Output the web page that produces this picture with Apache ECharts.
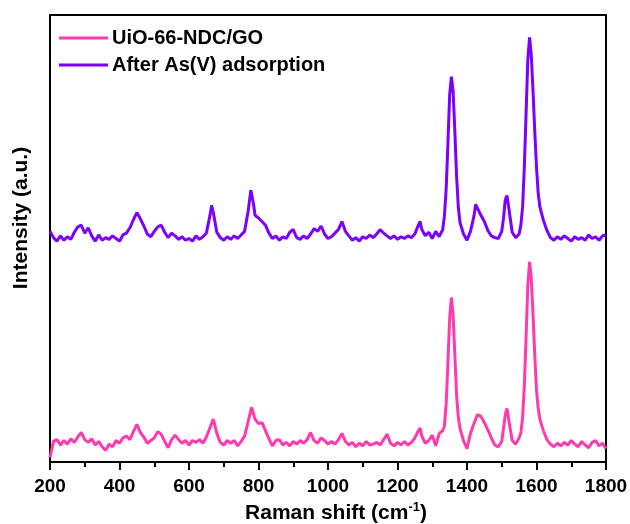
<!DOCTYPE html>
<html>
<head>
<meta charset="utf-8">
<script src="https://cdn.jsdelivr.net/npm/echarts@6/dist/echarts.min.js"></script>
<style>
html,body{margin:0;padding:0;background:#fff;}
#chart{width:630px;height:524px;}
</style>
</head>
<body>
<div id="chart"></div>
<script>
// Raman shift tick labels
const xTicks = [200, 400, 600, 800, 1000, 1200, 1400, 1600, 1800];
const seriesNames = ['UiO-66-NDC/GO', 'After As(V) adsorption'];
const seriesColors = ['#FF3AAF', '#7B00FF'];

// [Raman shift (cm-1), intensity (a.u., offset)]
const uioSpectrum = [
[200,1.0],[210,4.6],[220,5.0],[230,3.8],[240,4.8],[250,4.0],[260,5.2],[270,4.4],[280,5.6],[290,6.6],
[300,5.0],[310,4.4],[320,5.2],[330,3.8],[340,4.6],[350,3.4],[360,2.6],[370,4.0],[380,3.4],[390,4.8],
[400,4.2],[410,5.4],[420,5.8],[430,5.0],[440,6.8],[450,8.4],[460,6.6],[470,5.6],[480,4.2],[490,4.8],
[500,5.4],[510,6.8],[520,6.2],[530,4.6],[540,3.2],[550,5.0],[560,6.0],[570,5.0],[580,4.2],[590,4.8],
[600,3.8],[610,4.8],[620,4.4],[630,5.0],[640,4.2],[650,5.6],[660,7.6],[670,9.6],[680,6.4],[690,4.4],
[700,3.8],[710,4.8],[720,4.2],[730,4.8],[740,3.6],[750,4.6],[760,5.8],[770,9.0],[780,12.2],[790,9.6],
[800,8.6],[810,8.8],[820,7.0],[830,5.2],[840,3.6],[850,4.8],[860,5.0],[870,3.8],[880,4.4],[890,3.6],
[900,4.6],[910,4.0],[920,4.8],[930,4.2],[940,5.0],[950,6.6],[960,4.8],[970,4.2],[980,5.4],[990,4.8],
[1000,4.0],[1010,4.6],[1020,4.0],[1030,5.0],[1040,6.4],[1050,4.6],[1060,3.8],[1070,4.4],[1080,3.4],[1090,4.2],
[1100,3.6],[1110,4.6],[1120,3.8],[1130,4.0],[1140,4.4],[1150,3.8],[1160,5.0],[1170,6.2],[1180,4.2],[1190,3.6],
[1200,4.4],[1210,3.8],[1220,4.6],[1230,3.8],[1240,4.4],[1250,5.4],[1260,7.0],[1265,7.6],[1270,5.8],[1280,4.2],
[1290,4.8],[1300,6.0],[1310,3.6],[1320,6.4],[1330,7.0],[1335,8.0],[1340,13.0],[1345,22.0],[1350,32.0],[1355,36.8],
[1360,33.0],[1365,24.0],[1370,15.0],[1375,10.0],[1380,7.5],[1390,4.8],[1400,3.0],[1410,6.4],[1420,8.6],[1430,10.6],
[1440,10.2],[1450,8.8],[1460,7.2],[1470,5.4],[1480,3.8],[1490,3.4],[1500,4.6],[1505,7.5],[1510,10.5],[1515,12.0],
[1520,9.5],[1530,4.8],[1540,4.0],[1550,5.4],[1555,6.5],[1560,10.0],[1565,17.0],[1570,28.0],[1575,39.5],[1580,44.8],
[1585,41.0],[1590,33.0],[1595,24.0],[1600,16.0],[1605,12.0],[1610,9.5],[1615,8.2],[1620,7.0],[1630,5.0],[1640,4.0],
[1650,3.4],[1660,4.2],[1670,3.6],[1680,4.4],[1690,3.8],[1700,4.8],[1710,4.0],[1720,3.4],[1730,4.6],[1740,3.8],
[1750,3.2],[1760,4.4],[1770,4.8],[1780,3.6],[1790,4.2],[1800,3.0]
];

const asSpectrum = [
[200,51.6],[210,50.2],[220,49.4],[230,50.6],[240,49.6],[250,50.4],[260,49.8],[270,51.4],[280,52.6],[290,53.0],
[300,51.2],[310,52.4],[320,50.6],[330,49.4],[340,50.8],[350,49.6],[360,50.2],[370,49.8],[380,50.6],[390,50.0],
[400,49.4],[410,50.8],[420,51.2],[430,52.4],[440,54.2],[450,55.8],[460,54.4],[470,52.8],[480,51.0],[490,50.4],
[500,51.6],[510,52.6],[520,53.0],[530,51.4],[540,50.2],[550,51.2],[560,50.6],[570,49.8],[580,50.4],[590,49.6],
[600,50.0],[610,49.4],[620,50.6],[630,49.8],[640,50.4],[650,51.2],[660,55.0],[665,57.4],[670,55.8],[680,51.4],
[690,50.2],[700,49.6],[710,50.4],[720,49.8],[730,50.6],[740,50.0],[750,50.8],[760,51.6],[770,56.0],[778,60.8],
[785,58.0],[790,55.2],[800,54.6],[810,53.8],[820,53.0],[830,51.2],[840,50.0],[850,50.6],[860,49.6],[870,50.4],
[880,50.0],[890,51.4],[900,52.0],[910,50.2],[920,49.8],[930,50.6],[940,50.0],[950,51.0],[960,52.2],[970,51.6],
[980,52.8],[990,51.0],[1000,50.0],[1010,50.4],[1020,51.2],[1030,52.0],[1040,53.8],[1050,51.6],[1060,50.6],[1070,49.6],
[1080,50.2],[1090,49.4],[1100,50.4],[1110,50.0],[1120,50.8],[1130,50.2],[1140,51.0],[1150,52.0],[1160,51.2],[1170,50.6],
[1180,50.0],[1190,50.6],[1200,49.8],[1210,50.4],[1220,50.0],[1230,50.6],[1240,50.2],[1250,51.0],[1260,53.0],[1265,53.8],
[1270,52.0],[1280,50.6],[1290,51.4],[1300,50.0],[1310,51.6],[1320,50.4],[1330,52.0],[1335,55.0],[1340,61.0],[1345,71.0],
[1350,82.0],[1355,86.2],[1360,83.0],[1365,74.0],[1370,64.0],[1375,57.0],[1380,53.5],[1390,51.0],[1400,49.6],[1410,51.6],
[1420,55.0],[1425,57.6],[1430,56.8],[1440,55.2],[1450,53.8],[1460,51.8],[1470,50.6],[1480,50.2],[1490,50.0],[1500,51.6],
[1505,54.5],[1510,58.6],[1515,59.6],[1520,57.0],[1530,51.4],[1540,50.2],[1550,51.0],[1555,53.0],[1560,57.0],[1565,66.0],
[1570,78.0],[1575,90.0],[1580,95.0],[1585,91.0],[1590,83.0],[1595,74.0],[1600,66.0],[1605,60.0],[1610,57.0],[1615,55.5],
[1620,54.0],[1630,51.8],[1640,50.2],[1650,49.6],[1660,50.4],[1670,49.8],[1680,50.6],[1690,50.0],[1700,49.4],[1710,50.4],
[1720,49.8],[1730,50.2],[1740,49.6],[1750,50.8],[1760,50.0],[1770,50.4],[1780,49.6],[1790,50.6],[1800,50.8]
];

const FONT = "'Liberation Sans', Arial, Helvetica, sans-serif";
const chart = echarts.init(document.getElementById('chart'), null, {renderer: 'canvas'});
chart.setOption({
  animation: false,
  backgroundColor: '#fff',
  grid: {left: 50, right: 24, top: 15, bottom: 62, containLabel: false, outerBoundsMode: 'none',
    show: true, borderColor: '#000', borderWidth: 2, backgroundColor: 'transparent'},
  legend: {
    orient: 'vertical', left: 59, top: 27, padding: 0, itemWidth: 49, itemHeight: 3, itemGap: 5,
    icon: 'rect',
    textStyle: {fontFamily: FONT, fontWeight: 'bold', fontSize: 20, color: '#000', lineHeight: 22, padding: [0,0,0,-1]},
    data: seriesNames
  },
  xAxis: {
    type: 'value', min: xTicks[0], max: xTicks[xTicks.length - 1], interval: 200,
    axisLine: {show: true, lineStyle: {color: '#000', width: 2}},
    axisTick: {show: true, inside: false, length: 8, lineStyle: {color: '#000', width: 2}},
    minorTick: {show: true, splitNumber: 2, length: 5, lineStyle: {color: '#000', width: 2}},
    splitLine: {show: false},
    axisLabel: {fontFamily: FONT, fontWeight: 'bold', fontSize: 19, color: '#000', margin: 15,
      formatter: function (v) { return String(v); }},
    name: '{a|Raman shift (cm}{s|-1}{a|)}',
    nameLocation: 'middle', nameGap: 39,
    nameTextStyle: {
      padding: [0, 0, 0, 16],
      rich: {
        a: {fontFamily: FONT, fontWeight: 'bold', fontSize: 21, color: '#000', lineHeight: 24},
        s: {fontFamily: FONT, fontWeight: 'bold', fontSize: 13, color: '#000', verticalAlign: 'top', lineHeight: 24, padding: [0,0,10,0]}
      }
    }
  },
  yAxis: {
    type: 'value', min: 0, max: 100,
    axisLine: {show: true, lineStyle: {color: '#000', width: 2}},
    axisTick: {show: false}, axisLabel: {show: false}, splitLine: {show: false}
  },
  graphic: [{
    type: 'text', x: 21, y: 218, rotation: Math.PI / 2,
    style: {text: 'Intensity (a.u.)', font: "bold 21px " + FONT, fill: '#000', textAlign: 'center', textVerticalAlign: 'middle'}
  }],
  series: [
    {name: seriesNames[0], type: 'line', data: uioSpectrum, showSymbol: false, symbol: 'none',
     lineStyle: {color: seriesColors[0], width: 3}, itemStyle: {color: seriesColors[0]}},
    {name: seriesNames[1], type: 'line', data: asSpectrum, showSymbol: false, symbol: 'none',
     lineStyle: {color: seriesColors[1], width: 3}, itemStyle: {color: seriesColors[1]}}
  ]
});
</script>
</body>
</html>
